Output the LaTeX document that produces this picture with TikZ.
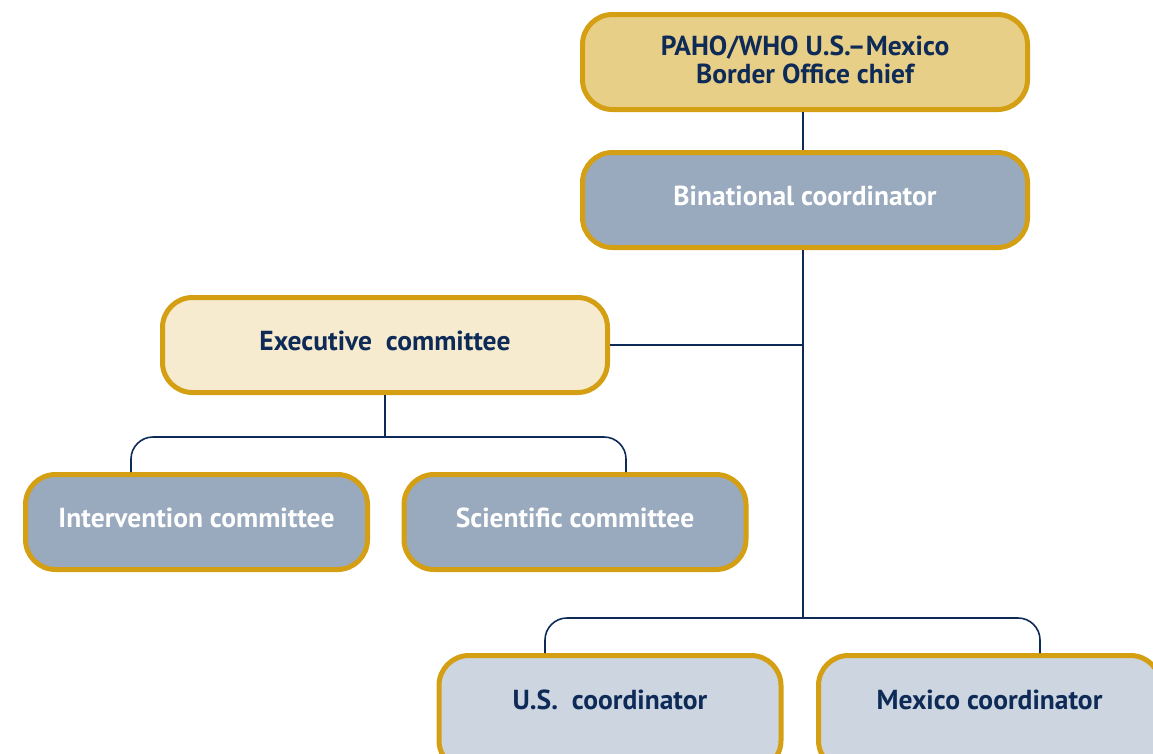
\documentclass[tikz,border=0pt]{standalone}
\usepackage{fontspec}
\setsansfont{PT Sans}
\usepackage{xcolor}
\usetikzlibrary{positioning, calc}
\definecolor{gold}{HTML}{D49F12}
\definecolor{navy}{HTML}{0E2B57}
\definecolor{chieffill}{HTML}{E8CF87}
\definecolor{execfill}{HTML}{F6EBCF}
\definecolor{slate}{HTML}{99A9BE}
\definecolor{pale}{HTML}{CCD5E0}

\begin{document}
\begin{tikzpicture}[x=1pt, y=-1pt,
  box/.style={draw=gold, line width=5pt, rounded corners=30pt, align=center,
    font=\sffamily\bfseries\fontsize{27.5}{28}\selectfont, text depth=8pt,
    minimum width=445pt, minimum height=95pt, inner sep=0pt},
  smallbox/.style={box, minimum width=342pt},
  cutbox/.style={smallbox, minimum height=115pt, text depth=27pt},
  link/.style={draw=navy, line width=1.6pt}]
  \useasboundingbox (0,0) rectangle (1153,753);
  % top of the chart
  \node[box, fill=chieffill, text=navy, text depth=4pt] (chief) at (805,62)
    {PAHO/WHO U.S.--Mexico\\Border Office chief};
  \node[box, fill=slate, text=white] (bin) at (805,200) {Binational coordinator};
  % executive branch
  \node[box, fill=execfill, text=navy] (exec) at (385,345) {Executive\ \ committee};
  \node[smallbox, fill=slate, text=white] (interv) at (196.5,522) {Intervention committee};
  \node[smallbox, fill=slate, text=white] (scient) at (575,522) {Scientific committee};
  % national coordinators (cut by the page edge)
  \node[cutbox, fill=pale, text=navy] (us) at (610,713) {U.S.\ \ coordinator};
  \node[cutbox, fill=pale, text=navy] (mex) at (989.5,713) {Mexico coordinator};
  % connectors
  \coordinate (split) at (803,618);
  \coordinate (execsplit) at (385,437);
  \coordinate (intervleg) at (131,472);
  \coordinate (scientleg) at (626,472);
  \coordinate (usleg) at (545,653);
  \coordinate (mexleg) at (1040,653);
  \draw[link] (chief.south -| split) -- (bin.north -| split);
  \draw[link] (bin.south -| split) -- (split);
  \draw[link] (exec.east) -- (exec.east -| split);
  \draw[link] (exec.south) -- (execsplit);
  \draw[link, rounded corners=22pt] (intervleg) |- (execsplit) -| (scientleg);
  \draw[link, rounded corners=22pt] (usleg) |- (split) -| (mexleg);
\end{tikzpicture}
\end{document}
